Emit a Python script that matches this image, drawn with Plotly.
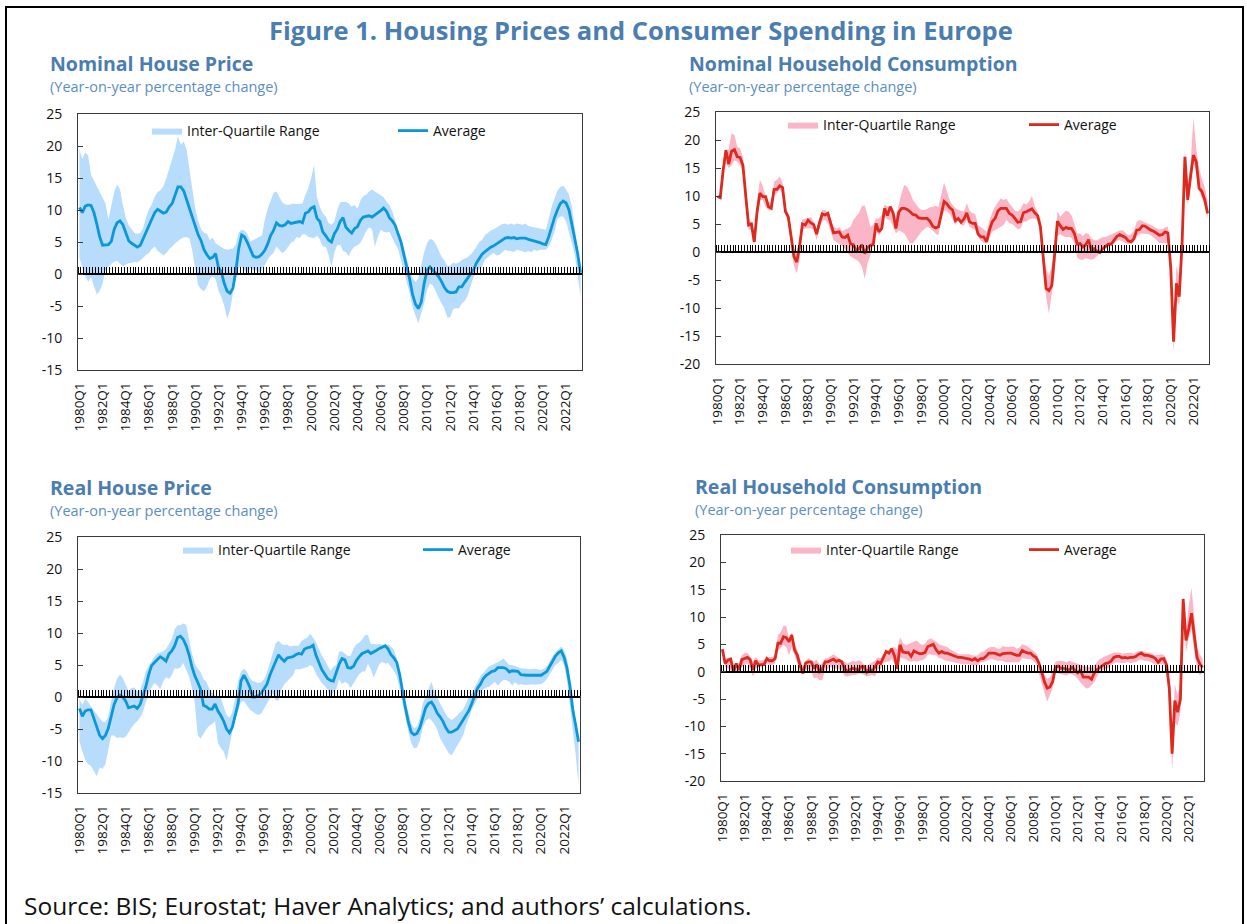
import plotly.graph_objects as go

N_Q = 174
years = list(range(1980, 2024))
quarters = [f"{y}Q{q}" for y in years for q in (1, 2, 3, 4)][:N_Q]
tick_labels = [f"{y}Q1" for y in range(1980, 2023, 2)]
house_yticks = [-15, -10, -5, 0, 5, 10, 15, 20, 25]
cons_yticks = [-20, -15, -10, -5, 0, 5, 10, 15, 20, 25]

# ---------------- Nominal house price ----------------
nhp_avg = [10.4, 9.6, 10.6, 10.8, 10.7, 9.6, 7.8, 5.8, 4.5, 4.5, 4.6, 5.1, 7.0, 8.0, 8.3, 7.7,
           6.5, 5.2, 4.8, 4.5, 4.2, 4.5, 5.6, 6.5, 7.6, 8.6, 9.6, 10.1, 9.8, 9.5, 9.7, 10.5,
           11.0, 12.3, 13.6, 13.6, 13.0, 11.6, 10.2, 8.8, 7.2, 6.1, 5.2, 3.8, 3.0, 2.4, 2.6, 3.2,
           1.0, 0.3, -1.5, -2.7, -3.0, -2.2, 0.5, 4.0, 6.1, 5.8, 4.9, 3.8, 2.8, 2.6, 2.7, 3.1,
           3.7, 4.7, 6.0, 6.8, 8.0, 7.6, 7.5, 7.7, 8.2, 7.9, 8.0, 8.0, 8.2, 8.0, 9.5, 9.7,
           10.3, 10.5, 8.7, 8.2, 6.6, 6.0, 5.3, 5.0, 6.3, 7.0, 8.2, 8.8, 7.3, 6.8, 6.4, 7.1,
           7.4, 8.4, 8.9, 9.0, 9.1, 8.9, 9.2, 9.6, 9.9, 10.3, 9.8, 8.8, 8.3, 7.6, 6.4, 5.0,
           3.0, 1.2, -0.8, -3.2, -4.7, -5.4, -4.4, -1.5, 0.6, 1.1, 0.6, 0.2, -0.4, -1.2, -2.1, -2.7,
           -2.9, -2.9, -2.8, -2.0, -2.0, -1.3, -0.6, 0.0, 0.6, 1.7, 2.4, 3.1, 3.5, 3.9, 4.2, 4.4,
           4.7, 5.0, 5.2, 5.6, 5.7, 5.6, 5.7, 5.5, 5.6, 5.6, 5.6, 5.4, 5.3, 5.2, 5.1, 4.9,
           4.7, 4.6, 5.8, 7.5, 8.8, 10.0, 11.0, 11.4, 11.1, 10.0, 8.0, 5.5, 3.2, 0.2]
nhp_lo = [2.5, 1.0, -0.3, -1.2, -0.5, -1.8, -3.2, -2.6, -1.5, 0.8, 1.1, 1.6, 1.9, 2.1, 1.6, 1.2,
          1.4, 1.7, 1.7, 1.9, 1.8, 2.2, 2.5, 3.0, 3.3, 3.9, 4.3, 3.6, 3.3, 2.9, 3.3, 3.9,
          4.3, 4.8, 5.1, 5.5, 5.7, 5.8, 5.6, 3.5, 1.2, -1.8, -2.4, -2.7, -2.0, -0.8, -0.4, -0.8,
          -2.6, -3.6, -5.0, -7.0, -5.6, -3.0, -0.6, 1.0, 1.1, 0.6, 0.2, 0.9, 0.6, 0.6, 0.2, 0.8,
          1.4, 2.3, 2.9, 3.3, 4.3, 3.8, 3.3, 3.6, 4.2, 4.9, 5.1, 5.8, 5.6, 6.2, 6.2, 5.8,
          5.7, 5.6, 6.0, 5.4, 4.3, 4.3, 3.0, 1.1, 3.4, 4.5, 4.6, 3.6, 3.4, 2.8, 3.8, 4.3,
          4.5, 4.9, 5.7, 6.7, 7.3, 7.0, 4.3, 5.8, 6.9, 6.6, 6.5, 6.6, 5.7, 4.7, 3.9, 2.3,
          0.6, -1.2, -3.0, -5.1, -6.5, -7.7, -6.2, -4.6, -2.5, -1.5, -1.8, -2.6, -3.6, -4.6, -5.4, -6.8,
          -6.8, -5.5, -5.3, -5.4, -4.6, -4.2, -3.4, -1.9, -0.6, 0.2, 0.8, 1.2, 2.2, 2.6, 3.0, 3.3,
          2.9, 3.0, 3.4, 3.8, 3.6, 3.6, 3.4, 3.8, 3.6, 3.5, 3.4, 3.6, 3.4, 3.8, 3.6, 3.8,
          3.8, 3.8, 4.3, 5.3, 6.6, 8.5, 9.0, 9.0, 8.2, 6.7, 4.8, 3.0, 0.0, -3.5]
nhp_hi = [19.5, 18.0, 19.0, 18.5, 15.5, 14.6, 13.6, 12.8, 11.8, 11.0, 8.5, 10.8, 12.8, 14.0, 13.2, 10.8,
          8.8, 7.6, 6.9, 6.4, 6.3, 6.4, 7.2, 8.9, 10.1, 10.9, 12.1, 12.8, 13.1, 13.7, 15.0, 16.5,
          18.0, 19.4, 21.5, 20.2, 20.7, 19.4, 16.2, 13.0, 10.2, 8.3, 7.0, 6.5, 6.3, 5.3, 5.7, 4.8,
          4.5, 4.2, 3.9, 3.8, 3.9, 4.0, 4.6, 6.5, 6.9, 6.8, 6.2, 5.1, 5.3, 5.6, 5.8, 6.0,
          8.5, 10.2, 11.5, 12.7, 12.9, 12.0, 11.2, 10.9, 10.8, 10.9, 11.0, 10.9, 11.0, 11.0, 12.4, 13.4,
          15.0, 17.0, 12.0, 10.5, 9.5, 9.0, 8.0, 7.7, 8.2, 10.0, 11.2, 11.3, 11.3, 11.0, 10.5, 10.8,
          10.2, 11.5, 12.2, 12.4, 12.9, 13.2, 12.9, 12.6, 12.4, 12.0, 11.3, 10.8, 9.8, 8.4, 6.6, 5.4,
          4.2, 2.5, 0.5, -0.6, -1.2, -0.7, 1.5, 3.4, 4.8, 5.5, 5.3, 4.7, 3.7, 2.7, 2.1, 1.3,
          1.3, 1.8, 1.6, 1.8, 2.2, 2.4, 2.6, 3.0, 3.5, 4.2, 5.0, 5.3, 6.1, 6.4, 6.8, 7.0,
          7.3, 7.6, 7.8, 7.9, 7.7, 7.9, 7.7, 7.9, 7.8, 7.7, 7.9, 7.5, 7.4, 7.3, 7.2, 7.0,
          7.0, 6.9, 8.6, 10.5, 11.8, 13.0, 13.6, 13.8, 13.2, 12.4, 10.5, 7.2, 3.3, 0.6]

# ---------------- Nominal household consumption ----------------
nhc_avg = [9.9, 9.7, 14.5, 18.2, 15.7, 18.0, 18.3, 17.0, 16.9, 15.5, 10.0, 4.8, 5.0, 1.8, 7.2, 10.5,
           9.9, 9.9, 8.1, 7.8, 11.2, 11.2, 11.8, 11.5, 7.2, 6.3, 2.8, -0.8, -1.8, 1.0, 5.0, 4.8,
           5.7, 5.2, 4.9, 3.2, 5.2, 6.8, 6.6, 6.9, 5.1, 3.4, 3.5, 3.6, 2.7, 2.6, 3.0, 1.4,
           1.3, 0.2, 0.6, 1.3, -0.3, 0.8, 1.2, 1.3, 5.1, 3.6, 4.2, 7.8, 6.5, 8.1, 7.0, 4.2,
           7.1, 7.8, 7.8, 7.6, 7.2, 6.7, 6.6, 6.1, 6.0, 6.0, 6.0, 5.5, 4.6, 4.3, 4.5, 6.7,
           9.0, 8.6, 7.9, 7.5, 5.6, 6.0, 5.3, 5.9, 7.0, 5.4, 5.1, 5.1, 3.2, 2.7, 2.7, 1.8,
           3.9, 5.4, 6.0, 7.3, 7.8, 7.8, 7.8, 6.9, 6.6, 6.0, 5.3, 5.4, 7.0, 7.2, 7.5, 7.7,
           7.0, 6.5, 4.5, -1.5, -6.5, -6.9, -6.0, -0.5, 5.5, 4.7, 4.0, 4.4, 4.2, 4.2, 3.3, 1.4,
           1.5, 0.9, 1.3, 2.2, 0.2, 0.6, 0.1, -0.1, 0.6, 1.0, 1.4, 1.4, 2.1, 2.8, 3.1, 2.9,
           2.6, 2.0, 1.8, 2.4, 3.9, 4.0, 4.7, 4.6, 4.2, 3.9, 3.7, 3.4, 3.0, 3.1, 3.6, 3.4,
           -2.8, -16.0, -5.6, -8.0, 1.5, 17.0, 9.3, 13.5, 17.3, 16.1, 11.4, 10.8, 9.3, 6.9]
nhc_lo = [9.9, 9.7, 14.5, 15.8, 15.0, 15.5, 16.4, 16.1, 15.5, 14.2, 8.5, 4.0, 3.9, 1.3, 5.8, 9.3,
          9.3, 8.0, 7.5, 7.5, 10.2, 10.5, 11.1, 10.2, 6.6, 5.5, 1.0, -2.5, -3.8, -1.5, 4.0, 4.2,
          4.2, 4.2, 4.0, 2.1, 4.2, 5.6, 5.7, 5.2, 3.8, 2.1, 1.8, 1.5, 1.1, 0.6, -0.2, -0.8,
          -1.1, -1.4, -1.8, -2.6, -4.8, -2.0, -0.5, 1.5, 3.9, 2.9, 3.9, 6.4, 5.8, 5.7, 4.5, 3.3,
          3.9, 3.6, 3.3, 2.3, 1.5, 1.5, 2.2, 2.9, 3.6, 4.1, 4.5, 4.3, 3.8, 3.3, 3.0, 5.7,
          7.4, 7.3, 6.8, 5.8, 4.8, 5.7, 4.8, 4.7, 5.7, 4.5, 4.2, 4.0, 2.7, 2.0, 1.7, 1.5,
          2.5, 3.6, 3.8, 4.2, 4.5, 4.8, 5.7, 5.2, 5.0, 4.6, 4.1, 4.2, 5.4, 5.4, 5.8, 6.0,
          6.0, 5.8, 5.0, -3.0, -8.0, -11.0, -8.0, -4.0, 2.8, 3.2, 2.8, 2.7, 2.7, 2.5, 1.6, -1.0,
          -1.4, -1.4, -1.1, -1.3, -1.4, -1.2, -0.8, -0.2, 0.3, 0.6, 0.9, 1.1, 1.6, 2.0, 2.1, 1.9,
          1.6, 1.4, 1.5, 1.7, 2.7, 3.2, 3.3, 3.3, 3.2, 3.0, 2.6, 2.1, 1.6, 1.5, 1.6, 1.6,
          -5.0, -18.0, -8.5, -9.5, -1.0, 15.2, 8.1, 11.7, 16.0, 14.2, 11.0, 9.5, 8.8, 6.0]
nhc_hi = [9.9, 9.7, 14.5, 17.0, 18.5, 21.2, 20.9, 18.8, 18.5, 16.9, 12.0, 5.6, 5.4, 3.0, 9.0, 12.9,
          11.8, 10.0, 9.0, 8.7, 12.6, 12.9, 13.5, 12.3, 7.8, 7.0, 3.3, 0.6, 0.0, 2.5, 5.8, 6.0,
          6.0, 6.3, 5.4, 3.9, 6.0, 7.5, 7.5, 7.0, 5.8, 4.5, 4.2, 4.4, 3.7, 4.0, 4.2, 4.5,
          5.7, 6.3, 7.0, 8.2, 8.3, 6.5, 4.5, 4.8, 6.0, 6.0, 6.6, 8.5, 8.1, 8.1, 7.3, 6.3,
          8.4, 10.5, 12.0, 11.6, 10.6, 9.3, 8.6, 7.9, 7.5, 7.5, 7.7, 8.0, 8.1, 8.2, 8.1, 10.5,
          12.4, 10.8, 9.2, 8.4, 7.8, 7.5, 7.3, 7.2, 8.7, 7.4, 6.9, 6.8, 4.8, 4.4, 4.0, 3.6,
          5.6, 7.1, 8.1, 8.8, 9.6, 9.3, 9.5, 8.7, 8.0, 7.4, 7.2, 7.7, 8.7, 8.5, 9.0, 10.0,
          8.2, 7.2, 6.0, 0.5, -3.0, -4.2, -2.5, 0.5, 7.3, 6.3, 6.8, 7.4, 7.2, 6.5, 5.0, 3.3,
          3.3, 2.8, 3.4, 3.2, 2.4, 2.1, 2.1, 2.4, 2.7, 2.7, 2.9, 3.1, 3.4, 3.6, 3.9, 3.9,
          3.5, 3.0, 3.2, 3.8, 5.4, 5.7, 5.5, 5.3, 5.1, 4.8, 4.5, 4.2, 4.0, 4.1, 4.4, 4.5,
          -1.0, -13.0, -2.5, -4.5, 2.0, 18.2, 11.4, 15.8, 24.0, 18.5, 15.0, 13.0, 11.5, 9.3]

# ---------------- Real house price ----------------
rhp_avg = [-1.8, -3.0, -2.2, -2.0, -2.0, -3.3, -4.9, -6.0, -6.5, -6.0, -4.9, -3.0, -1.2, -0.1, 0.3, 0.0,
           -0.6, -1.7, -1.5, -1.4, -1.8, -1.2, 0.2, 1.6, 3.5, 4.9, 5.4, 5.8, 6.3, 6.0, 5.6, 6.7,
           7.2, 8.0, 9.3, 9.5, 9.0, 8.0, 6.6, 4.7, 3.3, 2.3, 1.2, -1.3, -1.5, -1.9, -1.9, -1.1,
           -2.2, -2.9, -3.8, -5.0, -5.6, -4.7, -3.0, -1.0, 2.5, 3.4, 2.6, 1.6, 0.0, 0.0, 0.2, 0.6,
           1.3, 2.0, 3.4, 4.5, 5.3, 6.6, 6.0, 5.6, 6.1, 6.2, 6.3, 6.6, 6.8, 6.7, 7.5, 7.7,
           7.8, 8.1, 6.5, 5.4, 4.3, 3.6, 2.9, 2.6, 2.5, 3.8, 5.1, 6.0, 5.8, 4.6, 4.5, 4.8,
           5.7, 6.3, 6.8, 7.0, 7.2, 6.8, 7.0, 7.3, 7.6, 7.8, 8.0, 7.5, 6.6, 6.1, 5.4, 3.5,
           0.6, -1.7, -3.9, -5.5, -5.9, -5.7, -4.8, -3.2, -1.7, -1.0, -0.8, -1.5, -2.5, -3.1, -3.8, -4.8,
           -5.5, -5.5, -5.3, -5.0, -4.3, -3.6, -2.9, -2.1, -1.0, 0.3, 1.4, 2.0, 2.9, 3.4, 3.7, 4.0,
           4.1, 4.6, 4.6, 4.6, 4.4, 3.9, 4.1, 4.0, 4.0, 3.5, 3.4, 3.4, 3.4, 3.4, 3.4, 3.5,
           3.4, 3.7, 4.0, 4.8, 5.7, 6.4, 6.9, 7.2, 6.2, 4.5, 1.8, -2.0, -4.4, -7.0]
rhp_lo = [-7.0, -8.5, -9.8, -10.5, -10.8, -11.6, -12.4, -11.0, -11.2, -10.5, -8.5, -6.0, -6.0, -6.4, -6.3, -6.4,
          -6.2, -5.6, -4.8, -4.2, -3.8, -3.2, -2.4, -0.8, 0.5, 1.5, 2.2, 1.8, 1.2, 2.4, 3.1, 2.8,
          3.4, 4.5, 4.4, 4.6, 5.3, 4.2, 3.2, 1.4, -1.0, -6.0, -6.5, -5.8, -5.0, -4.5, -4.2, -3.8,
          -7.2, -8.0, -8.5, -10.0, -7.5, -5.4, -3.5, -2.0, -0.8, -0.6, -1.3, -1.9, -2.3, -2.6, -2.8, -2.6,
          -1.8, -1.1, -0.2, 0.6, -0.5, -0.6, 1.2, 2.0, 2.4, 2.9, 3.4, 4.4, 4.3, 4.4, 4.5, 4.7,
          5.0, 4.7, 3.6, 2.9, 2.2, 1.7, 1.2, -0.2, 0.8, 1.2, 2.8, 2.0, 2.4, 2.1, 1.4, 2.1,
          2.9, 3.6, 4.0, 4.0, 5.2, 4.3, 3.0, 4.0, 5.2, 5.5, 5.2, 5.3, 4.7, 4.1, 3.2, 1.2,
          -1.0, -3.0, -5.4, -7.2, -8.0, -7.9, -6.8, -4.8, -3.8, -3.3, -3.6, -4.2, -5.1, -6.4, -7.3, -8.0,
          -8.8, -9.1, -8.5, -7.5, -6.8, -6.0, -4.4, -3.3, -2.0, -1.1, -0.2, 0.6, 1.2, 1.5, 1.6, 2.0,
          2.4, 1.8, 2.3, 2.7, 2.6, 2.4, 1.8, 2.3, 1.9, 2.0, 1.9, 1.9, 1.9, 2.0, 1.9, 2.0,
          2.0, 2.3, 2.8, 3.5, 4.3, 5.0, 5.3, 5.8, 5.0, 2.5, -1.5, -5.0, -9.0, -13.7]
rhp_hi = [-0.3, -1.2, -0.3, -0.8, -1.5, -2.1, -2.6, -3.2, -3.9, -3.9, -3.1, -0.6, 1.4, 2.8, 3.5, 3.0,
          1.9, 0.9, 1.4, 1.5, 0.9, 1.1, 2.3, 4.0, 4.8, 5.6, 6.3, 6.8, 6.9, 7.1, 7.5, 8.2,
          9.0, 10.6, 11.2, 11.2, 11.5, 11.3, 9.0, 6.8, 5.2, 4.4, 3.9, 2.8, 2.4, 1.3, 0.7, 0.2,
          -0.1, -0.2, -1.5, -2.8, -3.3, -2.3, -0.2, 2.5, 4.0, 4.4, 4.0, 3.0, 2.5, 2.4, 2.2, 2.3,
          2.8, 3.8, 5.5, 6.8, 8.4, 8.8, 8.3, 8.1, 8.2, 7.9, 8.0, 8.0, 8.0, 8.8, 9.1, 9.3,
          9.9, 9.3, 8.6, 7.5, 6.5, 5.8, 4.9, 4.1, 4.7, 5.0, 7.1, 7.1, 6.8, 6.4, 6.4, 7.6,
          8.2, 8.5, 9.0, 9.7, 9.7, 8.3, 8.3, 8.2, 8.3, 8.2, 8.1, 8.2, 7.9, 7.4, 6.0, 3.2,
          0.5, -0.9, -2.3, -4.1, -4.9, -4.6, -3.3, -1.0, 0.2, 1.2, 2.4, 1.0, -0.1, -1.0, -1.8, -2.7,
          -3.3, -3.6, -3.3, -2.8, -2.3, -1.9, -1.0, 0.0, 0.6, 1.6, 2.4, 3.3, 3.8, 4.3, 4.8, 5.0,
          5.2, 5.5, 5.7, 6.0, 5.5, 5.0, 5.0, 4.9, 4.7, 4.5, 4.5, 4.4, 4.3, 4.4, 4.4, 4.3,
          4.2, 4.4, 4.8, 5.5, 6.4, 7.0, 7.5, 7.9, 7.3, 6.0, 3.0, -0.5, -3.9, -6.5]

# ---------------- Real household consumption ----------------
rhc_avg = [4.1, 1.5, 2.1, 2.3, 0.0, 1.5, 0.3, 2.2, 2.4, 2.6, 2.2, 0.3, 2.0, 1.2, 1.3, 1.3,
           2.4, 2.0, 2.0, 2.4, 5.2, 5.2, 6.4, 6.2, 5.5, 6.7, 4.0, 3.0, 1.1, -0.3, 1.6, 1.8,
           1.8, 0.6, 1.3, 0.0, 0.5, 1.8, 1.8, 2.0, 2.3, 1.9, 2.1, 1.8, 0.6, 0.0, 0.4, 0.6,
           0.5, 0.2, 0.9, 0.9, -0.1, 0.5, 0.1, 0.9, 1.8, 1.5, 2.7, 3.7, 3.4, 4.2, 2.9, 0.5,
           4.9, 3.6, 3.5, 3.5, 2.8, 3.8, 3.5, 3.3, 3.3, 3.5, 4.6, 4.8, 5.0, 4.0, 3.4, 3.7,
           3.4, 3.4, 3.2, 3.0, 2.7, 2.6, 2.6, 2.5, 2.5, 2.3, 2.1, 2.4, 2.0, 2.4, 2.4, 2.8,
           3.4, 3.4, 3.4, 3.2, 3.0, 3.3, 3.4, 3.4, 3.4, 3.2, 3.0, 3.0, 3.9, 3.6, 3.4, 3.4,
           2.9, 2.6, 1.6, 0.0, -1.8, -3.0, -2.8, -1.8, 0.8, 1.0, 0.6, 0.6, 0.4, 0.3, 0.8, 0.2,
           -0.2, 0.2, -1.0, -1.0, -1.0, -1.4, -0.2, 0.4, 0.8, 1.2, 1.5, 1.6, 1.9, 2.6, 2.8, 2.8,
           2.5, 2.6, 2.5, 2.6, 2.6, 2.8, 3.2, 3.4, 3.0, 3.0, 2.9, 2.7, 2.4, 1.7, 2.3, 2.4,
           1.3, -3.0, -15.0, -5.3, -7.4, -5.0, 13.3, 5.7, 7.8, 10.7, 6.6, 2.6, 1.4, 0.8]
rhc_lo = [3.0, 0.9, 0.6, 0.3, 0.0, -0.3, 0.0, 0.9, 1.2, 1.5, 0.5, -0.9, 0.6, 0.9, 0.9, 1.1,
          1.5, 1.2, 1.2, 1.5, 3.8, 4.3, 4.9, 4.5, 3.0, 4.5, 2.7, 1.5, 0.0, -0.6, 0.3, 0.5,
          0.0, -1.2, -1.0, -1.6, -1.5, 0.3, 0.6, 0.9, 0.6, 0.6, 0.4, 0.3, -0.8, -0.9, -0.7, -0.6,
          -0.6, -0.4, -0.4, -0.6, -0.9, -0.7, -0.6, -0.9, 0.5, 0.5, 1.6, 1.8, 1.8, 2.3, 1.5, 0.3,
          2.6, 2.4, 2.3, 2.0, 1.8, 2.0, 1.8, 2.0, 2.1, 2.4, 3.1, 3.2, 3.0, 3.0, 2.5, 2.4,
          2.1, 1.9, 1.8, 1.7, 1.6, 1.5, 1.4, 1.3, 1.4, 1.3, 1.1, 1.2, 1.1, 1.7, 1.7, 2.0,
          2.2, 2.3, 2.2, 2.0, 2.0, 2.0, 1.7, 1.8, 1.7, 1.7, 1.7, 1.7, 2.5, 2.4, 2.3, 2.3,
          2.0, 1.5, 0.0, -2.0, -3.8, -5.5, -4.4, -3.0, -0.2, -0.4, -0.4, -0.6, -0.7, -0.4, -0.5, -0.8,
          -1.3, -2.0, -2.6, -3.1, -3.0, -2.5, -1.9, -0.9, 0.0, 0.3, 0.5, 0.7, 1.2, 1.5, 1.7, 1.7,
          1.6, 1.6, 1.8, 1.5, 1.7, 1.7, 2.2, 2.2, 2.0, 2.0, 1.8, 1.6, 1.2, 1.4, 1.4, 1.3,
          0.0, -6.0, -18.0, -9.3, -9.9, -7.4, 12.1, 3.5, 6.0, 7.8, 3.5, 0.6, -0.7, -0.1]
rhc_hi = [4.1, 2.4, 2.6, 2.7, 1.5, 1.4, 1.6, 3.0, 3.4, 3.4, 2.8, 1.8, 2.7, 2.1, 2.1, 2.1,
          2.5, 2.7, 2.7, 3.0, 6.7, 7.2, 8.4, 8.4, 6.0, 7.2, 5.2, 4.0, 2.3, 1.0, 2.0, 2.5,
          2.0, 1.8, 2.2, 1.3, 1.6, 2.4, 2.5, 2.8, 3.2, 2.8, 2.4, 2.1, 1.8, 1.5, 1.7, 2.0,
          1.8, 2.1, 1.9, 1.3, 1.1, 1.4, 1.8, 2.0, 2.6, 2.5, 3.2, 3.6, 4.0, 4.4, 4.5, 4.0,
          6.3, 5.3, 4.9, 5.0, 5.3, 5.5, 5.7, 5.2, 4.9, 5.1, 5.8, 6.1, 5.8, 5.5, 5.0, 4.8,
          4.7, 4.5, 4.1, 3.8, 3.6, 3.3, 3.2, 3.2, 3.2, 3.2, 3.0, 2.9, 3.0, 3.5, 3.7, 4.0,
          4.4, 4.5, 4.5, 4.2, 4.2, 4.7, 4.5, 4.5, 4.5, 4.6, 4.2, 4.4, 5.0, 4.9, 4.6, 4.2,
          3.8, 3.4, 2.3, 0.7, -0.5, -1.3, -1.0, 0.2, 1.8, 2.0, 2.0, 1.9, 1.7, 2.0, 1.8, 1.6,
          1.4, 1.3, 1.1, 0.9, 0.8, 0.9, 1.2, 1.8, 2.3, 2.6, 2.8, 3.0, 3.3, 3.5, 3.5, 3.5,
          3.3, 3.4, 3.5, 3.5, 3.3, 3.5, 3.8, 3.8, 3.6, 3.5, 3.5, 3.3, 3.0, 3.1, 3.2, 3.1,
          2.3, -1.5, -12.0, -2.3, -4.4, -2.0, 13.9, 7.2, 12.1, 15.4, 9.6, 4.5, 3.2, 2.3]

FIG_W, FIG_H = 1247, 924
FONT = "Open Sans"
TITLE_BLUE = "#4A7DB0"
SUB_BLUE = "#5B8EC2"
BLUE_LINE = "#0A98D8"
BLUE_BAND = "rgb(184,220,252)"
RED_LINE = "#DD2A1E"
RED_BAND = "rgb(250,182,198)"


def fx(p):
    return p / FIG_W


def fy(p):
    return 1 - p / FIG_H


panels = [
    dict(title="Nominal House Price", avg=nhp_avg, lo=nhp_lo, hi=nhp_hi,
         line=BLUE_LINE, band=BLUE_BAND, box=(78, 114, 582, 370), yr=(-15, 25),
         yt=house_yticks, tpos=(48, 64, 87), leg=(147, 131), ew=201),
    dict(title="Nominal Household Consumption", avg=nhc_avg, lo=nhc_lo, hi=nhc_hi,
         line=RED_LINE, band=RED_BAND, box=(716, 112, 1209, 364), yr=(-20, 25),
         yt=cons_yticks, tpos=(687, 64, 87), leg=(783, 125), ew=196),
    dict(title="Real House Price", avg=rhp_avg, lo=rhp_lo, hi=rhp_hi,
         line=BLUE_LINE, band=BLUE_BAND, box=(78, 537, 580, 793), yr=(-15, 25),
         yt=house_yticks, tpos=(48, 487, 510), leg=(178, 550), ew=195),
    dict(title="Real Household Consumption", avg=rhc_avg, lo=rhc_lo, hi=rhc_hi,
         line=RED_LINE, band=RED_BAND, box=(721, 535, 1204, 781), yr=(-20, 25),
         yt=cons_yticks, tpos=(693, 486, 509), leg=(786, 550), ew=193),
]

fig = go.Figure()
idx = list(range(N_Q))
tickvals = [quarters.index(t) for t in tick_labels]
annotations = []
layout = {}

for k, p in enumerate(panels):
    n = k + 1
    xa = "x" if n == 1 else f"x{n}"
    ya = "y" if n == 1 else f"y{n}"
    xz = f"x{n + 4}"
    leg = "legend" if n == 1 else f"legend{n}"
    x0, y0, x1, y1 = p["box"]
    ymin, ymax = p["yr"]
    ydom = [fy(y1), fy(y0)]
    xdom = [fx(x0), fx(x1)]

    fig.add_trace(go.Scatter(
        x=idx + idx[::-1], y=p["hi"] + p["lo"][::-1], fill="toself",
        fillcolor=p["band"], line=dict(width=0, color=p["band"]), mode="lines",
        name="Inter-Quartile Range", xaxis=xa, yaxis=ya, legend=leg, hoverinfo="skip"))
    fig.add_trace(go.Scatter(
        x=idx, y=p["avg"], mode="lines", line=dict(color=p["line"], width=2.8),
        name="Average", xaxis=xa, yaxis=ya, legend=leg))
    # invisible helper so the zero-line axis gets drawn
    fig.add_trace(go.Scatter(
        x=[idx[0], idx[-1]], y=[0, 0], mode="lines", line=dict(width=0),
        opacity=0, showlegend=False, hoverinfo="skip", xaxis=xz, yaxis=ya))

    layout["xaxis" if n == 1 else f"xaxis{n}"] = dict(
        domain=xdom, anchor=ya, range=[-0.5, N_Q - 0.5],
        tickmode="array", tickvals=tickvals, ticktext=tick_labels, tickangle=-90,
        ticks="", showline=True, mirror=True, linecolor="#3a3a3a", linewidth=1,
        showgrid=False, zeroline=False, ticklabelstandoff=6,
        tickfont=dict(family=FONT, size=13.5, color="#111"))
    layout["yaxis" if n == 1 else f"yaxis{n}"] = dict(
        domain=ydom, anchor=xa, range=[ymin, ymax],
        tickmode="array", tickvals=p["yt"], ticktext=[str(v) for v in p["yt"]],
        ticks="inside", ticklen=5, tickcolor="#3a3a3a", showline=True, mirror=True,
        linecolor="#3a3a3a", linewidth=1, showgrid=False, zeroline=False,
        ticklabelstandoff=12, tickfont=dict(family=FONT, size=14, color="#111"))
    zpos = ydom[0] + (0 - ymin) / (ymax - ymin) * (ydom[1] - ydom[0])
    layout[f"xaxis{n + 4}"] = dict(
        domain=xdom, overlaying=xa, anchor="free", position=zpos, side="top",
        range=[-0.5, N_Q - 0.5], tickmode="array",
        tickvals=[i - 0.5 for i in range(N_Q + 1)], ticks="outside", ticklen=6,
        tickwidth=1, tickcolor="#000", showticklabels=False, showline=True,
        linecolor="#000", linewidth=1.6, showgrid=False, zeroline=False)
    layout[leg] = dict(
        orientation="h", x=fx(p["leg"][0]), y=fy(p["leg"][1]), xanchor="left",
        yanchor="middle", bgcolor="rgba(0,0,0,0)", entrywidth=p["ew"],
        font=dict(family=FONT, size=14, color="#111"), itemwidth=30)

    tx, ty, sy = p["tpos"]
    annotations.append(dict(text=f"<b>{p['title']}</b>", x=fx(tx), y=fy(ty),
                            xref="paper", yref="paper", xanchor="left", yanchor="middle",
                            showarrow=False, font=dict(family=FONT, size=19.5, color=TITLE_BLUE)))
    annotations.append(dict(text="(Year-on-year percentage change)", x=fx(tx), y=fy(sy),
                            xref="paper", yref="paper", xanchor="left", yanchor="middle",
                            showarrow=False, font=dict(family=FONT, size=14.5, color=SUB_BLUE)))

annotations.append(dict(text="<b>Figure 1. Housing Prices and Consumer Spending in Europe</b>",
                        x=fx(641), y=fy(30), xref="paper", yref="paper", xanchor="center",
                        yanchor="middle", showarrow=False,
                        font=dict(family=FONT, size=25.5, color=TITLE_BLUE)))
annotations.append(dict(text="Source: BIS; Eurostat; Haver Analytics; and authors\u2019 calculations.",
                        x=fx(22), y=fy(905), xref="paper", yref="paper", xanchor="left",
                        yanchor="middle", showarrow=False,
                        font=dict(family=FONT, size=24.5, color="#111")))

# outer frame: left, top and right edges (bottom runs off the page)
frame_path = f"M {fx(6)},{fy(924)} L {fx(6)},{fy(7)} L {fx(1243)},{fy(7)} L {fx(1243)},{fy(924)}"

fig.update_layout(
    width=FIG_W, height=FIG_H, margin=dict(l=0, r=0, t=0, b=0, autoexpand=False),
    paper_bgcolor="white", plot_bgcolor="white", annotations=annotations,
    shapes=[dict(type="path", xref="paper", yref="paper", path=frame_path,
                 line=dict(color="#000", width=2))],
    **layout)

fig.write_html("out.html", config={"displayModeBar": False},
               post_script="document.body.style.margin='0';document.body.style.overflow='hidden';")
